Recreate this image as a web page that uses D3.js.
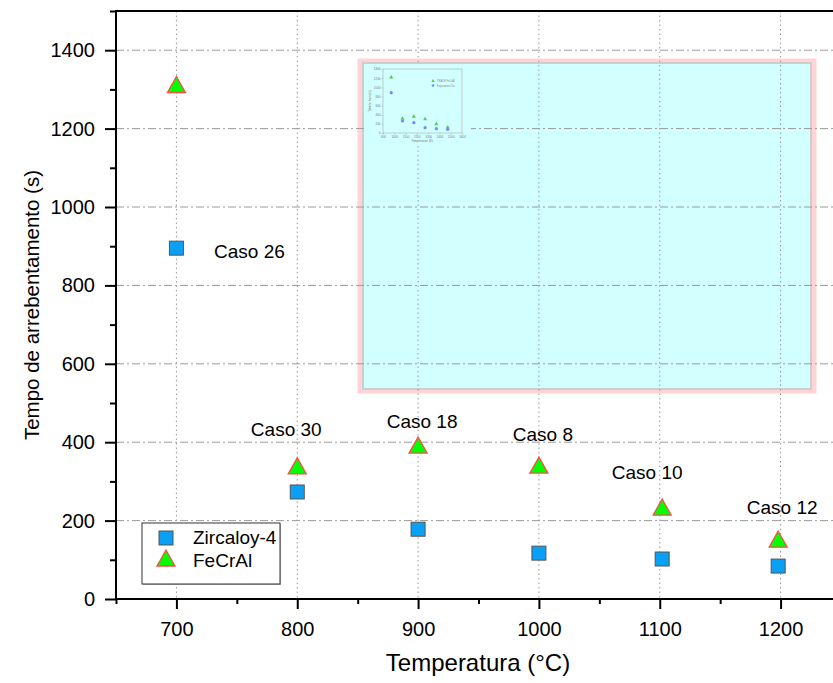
<!DOCTYPE html>
<html>
<head>
<meta charset="utf-8">
<script src="https://cdn.jsdelivr.net/npm/d3@7"></script>
<style>
  body { margin: 0; background: #fff; }
  svg { font-family: "Liberation Sans", Arial, sans-serif; }
</style>
</head>
<body>
<svg id="chart" width="833" height="683"></svg>
<script>
// data
var temps = [700, 800, 900, 1000, 1102, 1198];
var zircaloy = [895, 273, 178, 117, 102, 84];
var fecral = [1310, 337, 390, 339, 232, 150];
var casos = ["Caso 26", "Caso 30", "Caso 18", "Caso 8", "Caso 10", "Caso 12"];
var xTicks = [700, 800, 900, 1000, 1100, 1200];
var yTicks = [0, 200, 400, 600, 800, 1000, 1200, 1400];

// inset (small picture of another plot), Kelvin
var insetTemps = [973, 1073, 1173, 1273, 1373, 1473];
var insetFecral = [1218, 313, 357, 306, 197, 124];
var insetZirc = [882, 262, 226, 117, 95, 80];
var insetXTicks = [900, 1000, 1100, 1200, 1300, 1400, 1500, 1600];
var insetYTicks = [0, 200, 400, 600, 800, 1000, 1200, 1400];

var margin = { top: 11, right: -8, bottom: 84, left: 116 },
    W = 833, H = 683,
    width = W - margin.left - margin.right,
    height = H - margin.top - margin.bottom;

var x = d3.scaleLinear().domain([650, 1250]).range([0, width]);
var y = d3.scaleLinear().domain([0, 1500]).range([height, 0]);

var svg = d3.select("#chart");
var g = svg.append("g").attr("transform", "translate(" + margin.left + "," + margin.top + ")");

// inset frame
g.append("rect")
  .attr("x", 244).attr("y", 50).attr("width", 454).attr("height", 330)
  .attr("fill", "#d2ffff").attr("stroke", "#ffd4d4").attr("stroke-width", 5);
g.append("rect")
  .attr("x", 247).attr("y", 52).attr("width", 448).attr("height", 326)
  .attr("fill", "none").attr("stroke", "#cdcdcd").attr("stroke-width", 2);

// grid
g.selectAll(".hgrid").data(yTicks.filter(function (d) { return d > 0; }))
  .enter().append("line")
  .attr("x1", 0).attr("x2", width)
  .attr("y1", function (d) { return y(d); }).attr("y2", function (d) { return y(d); })
  .attr("stroke", "#9a9a9a").attr("stroke-width", 1)
  .attr("stroke-dasharray", "8,3,2,3");
g.selectAll(".vgrid").data(xTicks)
  .enter().append("line")
  .attr("x1", function (d) { return x(d); }).attr("x2", function (d) { return x(d); })
  .attr("y1", 0).attr("y2", height)
  .attr("stroke", "#9a9a9a").attr("stroke-width", 1)
  .attr("stroke-dasharray", "1.5,3");

// small picture inside the inset
var ins = svg.append("g");
ins.append("rect").attr("x", 365).attr("y", 64).attr("width", 106).attr("height", 82)
  .attr("fill", "#d2ffff");
var ix = d3.scaleLinear().domain([900, 1600]).range([383, 462]);
var iy = d3.scaleLinear().domain([0, 1400]).range([133, 69]);
ins.append("rect").attr("x", 383).attr("y", 69).attr("width", 79).attr("height", 64)
  .attr("fill", "none").attr("stroke", "#b0b0b0").attr("stroke-width", 0.6);
ins.append("g").attr("transform", "translate(0,133)")
  .call(d3.axisBottom(ix).tickValues(insetXTicks).tickSize(1.5).tickPadding(1).tickFormat(d3.format("d")))
  .call(function (a) { a.select(".domain").remove(); })
  .selectAll("text").attr("font-size", 3).attr("fill", "#777");
ins.append("g").attr("transform", "translate(383,0)")
  .call(d3.axisLeft(iy).tickValues(insetYTicks).tickSize(1.5).tickPadding(1).tickFormat(d3.format("d")))
  .call(function (a) { a.select(".domain").remove(); })
  .selectAll("text").attr("font-size", 3).attr("fill", "#777");
ins.selectAll(".tick line").attr("stroke", "#999").attr("stroke-width", 0.5);
ins.append("text").attr("x", 422).attr("y", 142).attr("text-anchor", "middle")
  .attr("font-size", 3).attr("fill", "#777").text("Temperature (K)");
ins.append("text").attr("transform", "translate(371,101) rotate(-90)").attr("text-anchor", "middle")
  .attr("font-size", 3).attr("fill", "#777").text("Time to burst (s)");
ins.selectAll(".it").data(insetTemps).enter().append("path")
  .attr("d", d3.symbol(d3.symbolTriangle, 7))
  .attr("transform", function (d, i) { return "translate(" + ix(d) + "," + iy(insetFecral[i]) + ")"; })
  .attr("fill", "#4ccf4c");
ins.selectAll(".ic").data(insetTemps).enter().append("circle")
  .attr("cx", function (d) { return ix(d); })
  .attr("cy", function (d, i) { return iy(insetZirc[i]); })
  .attr("r", 1.6).attr("fill", "#6f8cff");
ins.append("path").attr("d", d3.symbol(d3.symbolTriangle, 5))
  .attr("transform", "translate(433,81)").attr("fill", "#4ccf4c");
ins.append("circle").attr("cx", 433).attr("cy", 85.5).attr("r", 1.3).attr("fill", "#6f8cff");
ins.append("text").attr("x", 437).attr("y", 82).attr("font-size", 2.6).attr("fill", "#888").text("TRACE FeCrAl");
ins.append("text").attr("x", 437).attr("y", 86.5).attr("font-size", 2.6).attr("fill", "#888").text("Experiment Zirc");

// axes
var xAxis = g.append("g").attr("transform", "translate(0," + height + ")")
  .call(d3.axisBottom(x).tickValues(xTicks).tickSize(10).tickPadding(13).tickFormat(d3.format("d")));
g.append("g").attr("transform", "translate(0," + height + ")")
  .call(d3.axisBottom(x).tickValues([650, 750, 850, 950, 1050, 1150, 1250]).tickSize(5).tickFormat(""))
  .select(".domain").remove();
var yAxis = g.append("g")
  .call(d3.axisLeft(y).tickValues(yTicks).tickSize(11).tickPadding(10).tickFormat(d3.format("d")));
g.append("g")
  .call(d3.axisLeft(y).tickValues([100, 300, 500, 700, 900, 1100, 1300, 1500]).tickSize(6).tickFormat(""))
  .select(".domain").remove();
g.selectAll(".domain").attr("stroke-width", 2).attr("stroke", "#000");
g.selectAll(".tick line").attr("stroke-width", 2).attr("stroke", "#000");
g.selectAll(".tick text").attr("font-size", 20).attr("fill", "#000")
  .attr("font-family", "'Liberation Sans', Arial, sans-serif");
xAxis.select(".domain").attr("d", "M0,0H" + (width + 10));
// top frame line
g.append("line").attr("x1", -1).attr("x2", width + 10).attr("y1", 0).attr("y2", 0)
  .attr("stroke", "#000").attr("stroke-width", 2);
yAxis.select(".domain").attr("d", "M0,0V" + height);

// markers
g.selectAll(".zr").data(temps).enter().append("rect")
  .attr("x", function (d) { return x(d) - 7; })
  .attr("y", function (d, i) { return y(zircaloy[i]) - 7; })
  .attr("width", 14).attr("height", 14)
  .attr("fill", "#0aa0f5").attr("stroke", "#555").attr("stroke-width", 1);
var tri = "M0,-10L9,6L-9,6Z";
g.selectAll(".fc").data(temps).enter().append("path")
  .attr("d", tri)
  .attr("transform", function (d, i) { return "translate(" + x(d) + "," + (y(fecral[i]) + 1) + ")"; })
  .attr("fill", "#00ff00").attr("stroke", "#ff4a4a").attr("stroke-width", 1.3)
  .attr("stroke-linejoin", "miter");

// case labels (offsets in px from the point)
var labelOff = [[73, 10], [-11, -31], [4, -18], [4, -25], [-15, -29], [4, -26]];
g.selectAll(".lab").data(temps).enter().append("text")
  .attr("x", function (d, i) { return x(d) + labelOff[i][0]; })
  .attr("y", function (d, i) { return (i === 0 ? y(zircaloy[i]) : y(fecral[i])) + labelOff[i][1]; })
  .attr("text-anchor", "middle").attr("font-size", 19).attr("fill", "#000")
  .text(function (d, i) { return casos[i]; });

// legend
var lg = svg.append("g").attr("transform", "translate(142,523)");
lg.append("rect").attr("x", 1).attr("y", 1).attr("width", 138).attr("height", 61).attr("fill", "#bbb");
lg.append("rect").attr("width", 138).attr("height", 61)
  .attr("fill", "#fff").attr("stroke", "#333").attr("stroke-width", 1);
lg.append("rect").attr("x", 17).attr("y", 8).attr("width", 14).attr("height", 14)
  .attr("fill", "#0aa0f5").attr("stroke", "#555");
lg.append("path").attr("d", tri).attr("transform", "translate(24,37)")
  .attr("fill", "#00ff00").attr("stroke", "#ff4a4a").attr("stroke-width", 1.3);
lg.append("text").attr("x", 51).attr("y", 21).attr("font-size", 19).text("Zircaloy-4");
lg.append("text").attr("x", 51).attr("y", 44).attr("font-size", 19).text("FeCrAl");

// axis titles
svg.append("text").attr("x", 478).attr("y", 671).attr("text-anchor", "middle")
  .attr("font-size", 24).text("Temperatura (°C)");
svg.append("text").attr("transform", "translate(39,305) rotate(-90)")
  .attr("text-anchor", "middle").attr("font-size", 20.5).text("Tempo de arrebentamento (s)");
</script>
</body>
</html>
